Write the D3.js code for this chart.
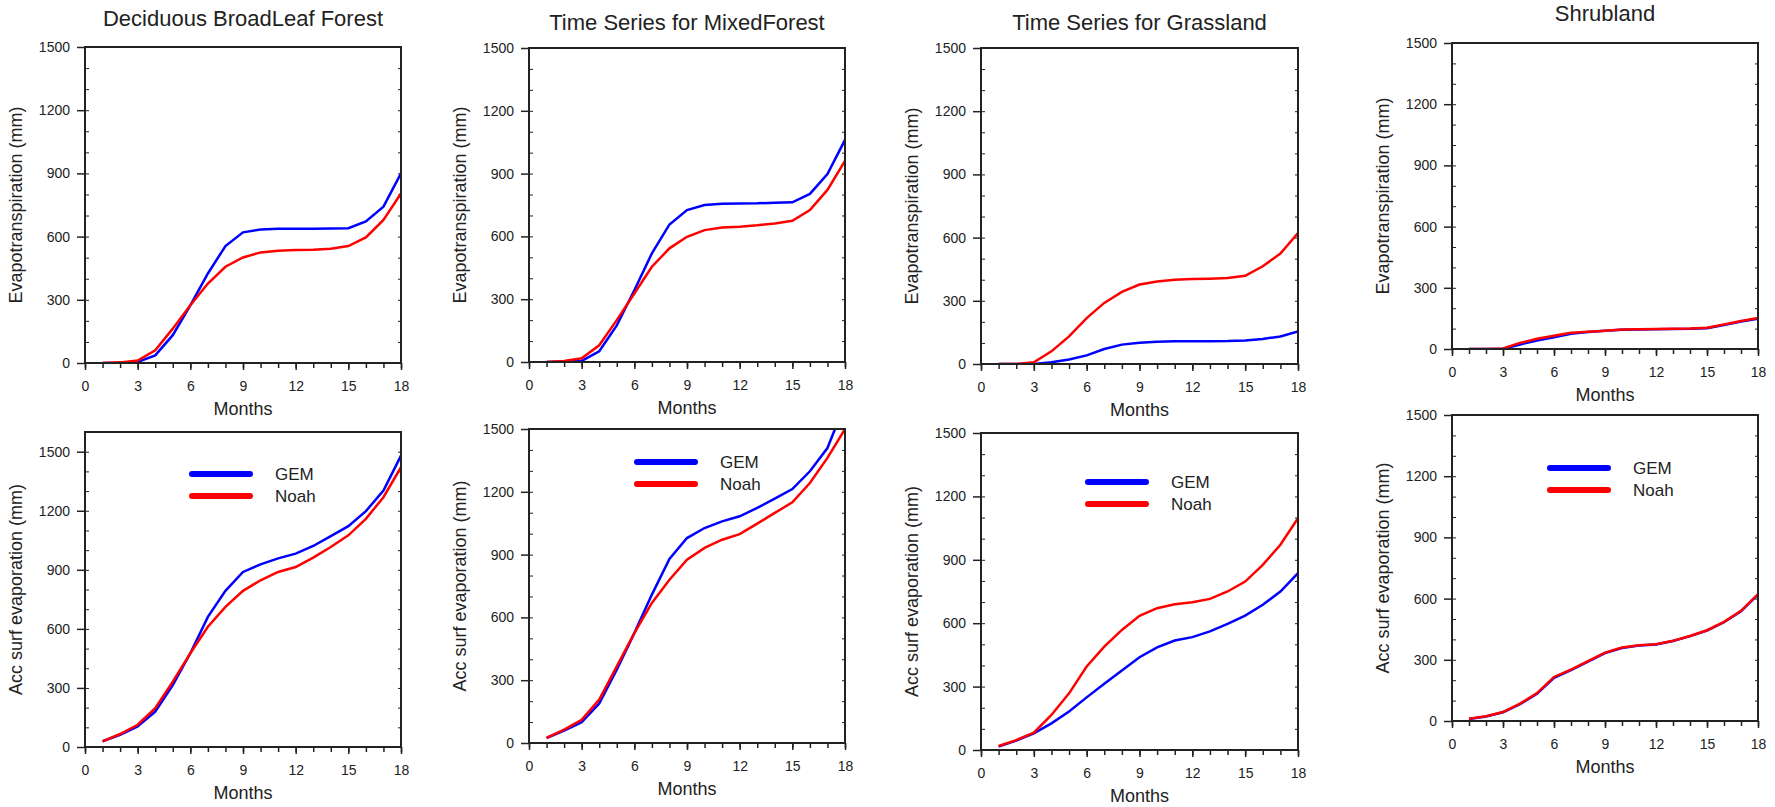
<!DOCTYPE html>
<html lang="en">
<head>
    <meta charset="UTF-8">
    <title>Evapotranspiration time series</title>
    <script src="https://d3js.org/d3.v7.min.js"></script>
    <style>
        body {
            margin: 0;
            background: #ffffff;
        }
        svg {
            display: block;
            font-family: "Liberation Sans", Arial, Helvetica, sans-serif;
        }
        .tick text {
            font-size: 14px;
            fill: #222;
        }
        .tick line, .domain {
            stroke: #222;
        }
    </style>
</head>
<body>
    <div id="chart"></div>

    <script>
        // months 1..18
        const months = [1, 2, 3, 4, 5, 6, 7, 8, 9, 10, 11, 12, 13, 14, 15, 16, 17, 18];
        const xTicks = [0, 3, 6, 9, 12, 15, 18];
        const yTicks = [0, 300, 600, 900, 1200, 1500];
        const seriesNames = ["GEM", "Noah"];

        // evapotranspiration (mm)
        const etDeciduousGEM  = [0, 0, 5, 36, 132, 274, 425, 555, 620, 634, 637, 637, 637, 638, 640, 672, 742, 900];
        const etDeciduousNoah = [0, 3, 12, 60, 163, 274, 377, 457, 501, 525, 533, 536, 537, 542, 555, 596, 679, 805];
        const etMixedGEM      = [0, 2, 5, 51, 175, 343, 519, 657, 726, 750, 756, 757, 758, 761, 763, 803, 898, 1061];
        const etMixedNoah     = [0, 5, 18, 80, 200, 327, 455, 543, 598, 630, 643, 646, 653, 662, 675, 726, 822, 961];
        const etGrassGEM      = [0, 0, 0, 8, 21, 41, 71, 92, 101, 106, 108, 108, 108, 109, 112, 119, 131, 155];
        const etGrassNoah     = [0, 0, 8, 60, 131, 218, 290, 342, 377, 392, 400, 403, 405, 408, 419, 464, 524, 622];
        const etShrubGEM      = [0, 0, 0, 22, 42, 58, 75, 83, 89, 94, 96, 97, 98, 99, 102, 118, 135, 148];
        const etShrubNoah     = [0, 0, 3, 30, 50, 65, 80, 85, 90, 95, 97, 98, 99, 100, 104, 120, 137, 152];

        // accumulated surface evaporation (mm)
        const evDeciduousGEM  = [29, 62, 105, 180, 315, 476, 661, 793, 889, 928, 958, 982, 1021, 1071, 1122, 1198, 1303, 1480];
        const evDeciduousNoah = [29, 66, 113, 197, 332, 476, 611, 712, 793, 847, 889, 914, 962, 1016, 1075, 1159, 1269, 1421];
        const evMixedGEM      = [24, 59, 99, 188, 350, 525, 709, 879, 979, 1027, 1059, 1083, 1123, 1167, 1213, 1298, 1409, 1620];
        const evMixedNoah     = [24, 64, 111, 207, 366, 525, 669, 780, 876, 932, 971, 998, 1048, 1099, 1150, 1242, 1362, 1500];
        const evGrassGEM      = [16, 44, 79, 126, 182, 249, 313, 376, 439, 486, 518, 534, 561, 597, 636, 687, 750, 837];
        const evGrassNoah     = [19, 47, 82, 166, 268, 395, 489, 568, 635, 671, 690, 699, 715, 750, 797, 876, 971, 1097];
        const evShrubGEM      = [10, 22, 43, 82, 133, 212, 250, 291, 333, 358, 370, 375, 392, 416, 443, 484, 538, 620];
        const evShrubNoah     = [11, 23, 44, 85, 137, 216, 252, 293, 335, 360, 371, 376, 393, 417, 445, 486, 540, 622];

        const colors = {GEM: "#0000ff", Noah: "#ff0000"};

        const panels = [
            {title: "Deciduous BroadLeaf Forest", titleY: 26, ylabel: "Evapotranspiration (mm)",
             gem: etDeciduousGEM, noah: etDeciduousNoah, yMax: 1500, x: 85, y: 47, w: 316, h: 316},
            {title: "Time Series for MixedForest", titleY: 30, ylabel: "Evapotranspiration (mm)",
             gem: etMixedGEM, noah: etMixedNoah, yMax: 1500, x: 529, y: 48, w: 316, h: 314},
            {title: "Time Series for Grassland", titleY: 30, ylabel: "Evapotranspiration (mm)",
             gem: etGrassGEM, noah: etGrassNoah, yMax: 1500, x: 981, y: 48, w: 317, h: 316},
            {title: "Shrubland", titleY: 21, ylabel: "Evapotranspiration (mm)",
             gem: etShrubGEM, noah: etShrubNoah, yMax: 1500, x: 1452, y: 43, w: 306, h: 306},
            {ylabel: "Acc surf evaporation (mm)", gem: evDeciduousGEM, noah: evDeciduousNoah,
             yMax: 1600, x: 85, y: 432, w: 316, h: 315, legend: {dx: 107, dy: 42}},
            {ylabel: "Acc surf evaporation (mm)", gem: evMixedGEM, noah: evMixedNoah,
             yMax: 1500, x: 529, y: 429, w: 316, h: 314, legend: {dx: 108, dy: 33}},
            {ylabel: "Acc surf evaporation (mm)", gem: evGrassGEM, noah: evGrassNoah,
             yMax: 1500, x: 981, y: 433, w: 317, h: 317, legend: {dx: 107, dy: 49}},
            {ylabel: "Acc surf evaporation (mm)", gem: evShrubGEM, noah: evShrubNoah,
             yMax: 1500, x: 1452, y: 415, w: 306, h: 306, legend: {dx: 98, dy: 53}}
        ];

        const svg = d3.select("#chart").append("svg")
            .attr("width", 1775)
            .attr("height", 807);

        panels.forEach((p, i) => {
            const g = svg.append("g")
                .attr("transform", `translate(${p.x}, ${p.y})`);

            const x = d3.scaleLinear().domain([0, 18]).range([0, p.w]);
            const y = d3.scaleLinear().domain([0, p.yMax]).range([p.h, 0]);

            // minor ticks
            g.append("g")
                .call(d3.axisLeft(y).tickValues(d3.range(0, p.yMax + 1, 100)).tickSize(-4).tickFormat(""))
                .call(a => a.select(".domain").remove())
                .selectAll("line").attr("stroke-width", 1);
            g.append("g")
                .attr("transform", `translate(0, ${p.h})`)
                .call(d3.axisBottom(x).tickValues(d3.range(0, 19)).tickSize(5).tickFormat(""))
                .call(a => a.select(".domain").remove())
                .selectAll("line").attr("stroke-width", 1.5);
            g.append("g")
                .attr("transform", `translate(${p.w}, 0)`)
                .call(d3.axisRight(y).tickValues(d3.range(0, p.yMax + 1, 100)).tickSize(-3).tickFormat(""))
                .call(a => a.select(".domain").remove());

            // major ticks
            g.append("g")
                .call(d3.axisLeft(y).tickValues(yTicks).tickSize(8).tickPadding(7).tickFormat(d3.format("d")))
                .call(a => a.select(".domain").remove())
                .selectAll("line").attr("stroke-width", 1.5);
            g.append("g")
                .attr("transform", `translate(0, ${p.h})`)
                .call(d3.axisBottom(x).tickValues(xTicks).tickSize(7).tickPadding(11).tickFormat(d3.format("d")))
                .call(a => a.select(".domain").remove())
                .selectAll("line").attr("stroke-width", 1.5);

            // clip so that lines running past the top are cut at the frame
            const clipId = "clip" + i;
            g.append("clipPath").attr("id", clipId)
                .append("rect").attr("width", p.w).attr("height", p.h);

            const line = d3.line()
                .x((d, j) => x(months[j]))
                .y(d => y(d));

            g.append("path")
                .datum(p.gem)
                .attr("clip-path", `url(#${clipId})`)
                .attr("fill", "none")
                .attr("stroke", colors.GEM)
                .attr("stroke-width", 2.5)
                .attr("d", line);
            g.append("path")
                .datum(p.noah)
                .attr("clip-path", `url(#${clipId})`)
                .attr("fill", "none")
                .attr("stroke", colors.Noah)
                .attr("stroke-width", 2.5)
                .attr("d", line);

            // frame
            g.append("rect")
                .attr("width", p.w)
                .attr("height", p.h)
                .attr("fill", "none")
                .attr("stroke", "#222")
                .attr("stroke-width", 2);

            if (p.title) {
                svg.append("text")
                    .attr("x", p.x + p.w / 2)
                    .attr("y", p.titleY)
                    .attr("text-anchor", "middle")
                    .attr("font-size", 22)
                    .attr("fill", "#222")
                    .text(p.title);
            }

            g.append("text")
                .attr("x", p.w / 2)
                .attr("y", p.h + 52)
                .attr("text-anchor", "middle")
                .attr("font-size", 18)
                .attr("fill", "#222")
                .text("Months");

            g.append("text")
                .attr("transform", `translate(-69, ${p.h / 2}) rotate(-90)`)
                .attr("text-anchor", "middle")
                .attr("dy", "0.35em")
                .attr("font-size", 18)
                .attr("fill", "#222")
                .text(p.ylabel);

            if (p.legend) {
                const lg = g.append("g")
                    .attr("transform", `translate(${p.legend.dx}, ${p.legend.dy})`);
                seriesNames.forEach((name, k) => {
                    lg.append("line")
                        .attr("x1", 0).attr("x2", 58)
                        .attr("y1", k * 22).attr("y2", k * 22)
                        .attr("stroke", colors[name])
                        .attr("stroke-width", 6)
                        .attr("stroke-linecap", "round");
                    lg.append("text")
                        .attr("x", 83)
                        .attr("y", k * 22)
                        .attr("dy", "0.35em")
                        .attr("font-size", 17)
                        .attr("fill", "#222")
                        .text(name);
                });
            }
        });
    </script>
</body>
</html>
